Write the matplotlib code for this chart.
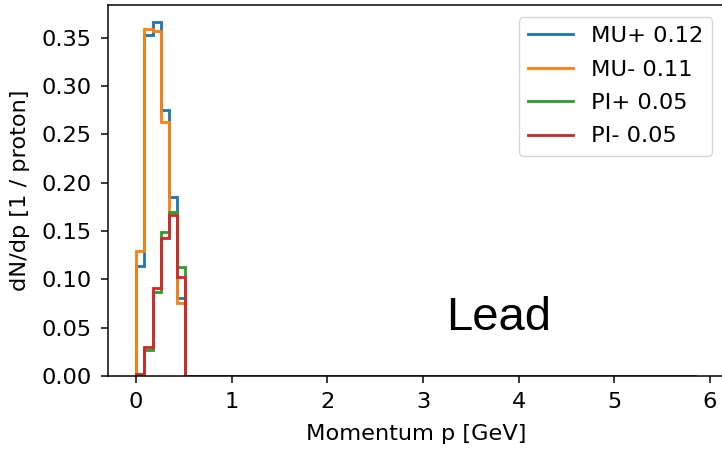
import numpy as np
import matplotlib
matplotlib.use("Agg")
import matplotlib.pyplot as plt
from matplotlib.lines import Line2D

# Histogram: 68 bins from 0 to ~5.86 GeV; only the first 6 bins are non-zero
n_bins = 68
p_max = 5.86
mu_plus = [0.114, 0.353, 0.366, 0.275, 0.185, 0.081]
mu_minus = [0.129, 0.359, 0.357, 0.263, 0.170, 0.076]
pi_plus = [0.002, 0.027, 0.087, 0.149, 0.170, 0.113]
pi_minus = [0.002, 0.030, 0.091, 0.143, 0.167, 0.102]
labels = ["MU+ 0.12", "MU- 0.11", "PI+ 0.05", "PI- 0.05"]
colors = ["#1f77b4", "#ff7f0e", "#2ca02c", "#d62728"]
x_ticks = [0, 1, 2, 3, 4, 5, 6]
y_ticks = [0.00, 0.05, 0.10, 0.15, 0.20, 0.25, 0.30, 0.35]

edges = np.linspace(0, p_max, n_bins + 1)
series = [mu_plus, mu_minus, pi_plus, pi_minus]

s = 1.35  # scale factor of the original rendering
fs = 12 * s

fig = plt.figure(figsize=(7.22, 4.49), dpi=100)
ax = fig.add_axes([108 / 722, 1 - 376 / 449, (724.5 - 108) / 722, (376 - 5) / 449])

for vals, c in zip(series, colors):
    full = np.array(vals + [0.0] * (n_bins - len(vals)))
    ax.stairs(full, edges, baseline=0, color=c, linewidth=1.5 * s)

ax.set_xlim(-0.293, 6.153)
ax.set_ylim(0, 0.3838)
ax.set_xticks(x_ticks)
ax.set_yticks(y_ticks)
ax.set_yticklabels([f"{v:.2f}" for v in y_ticks])
ax.tick_params(labelsize=fs, length=3.5 * s, width=0.8 * s, pad=7)
for sp in ax.spines.values():
    sp.set_linewidth(0.8 * s)
ax.set_xlabel("Momentum p [GeV]", fontsize=fs, labelpad=8.5)
ax.set_ylabel("dN/dp [1 / proton]", fontsize=fs, labelpad=8)

handles = [Line2D([0], [0], color=c, linewidth=1.5 * s) for c in colors]
fig.legend(handles, labels, loc="upper right", fontsize=fs, labelspacing=0.6,
           bbox_to_anchor=(712 / 722, 1 - 17 / 449), borderaxespad=0)

fig.text(446 / 722, 1 - 330 / 449, "Lead", fontsize=34,
         family="Liberation Sans", color="black", ha="left", va="baseline")

fig.savefig("out.png", dpi=100)
